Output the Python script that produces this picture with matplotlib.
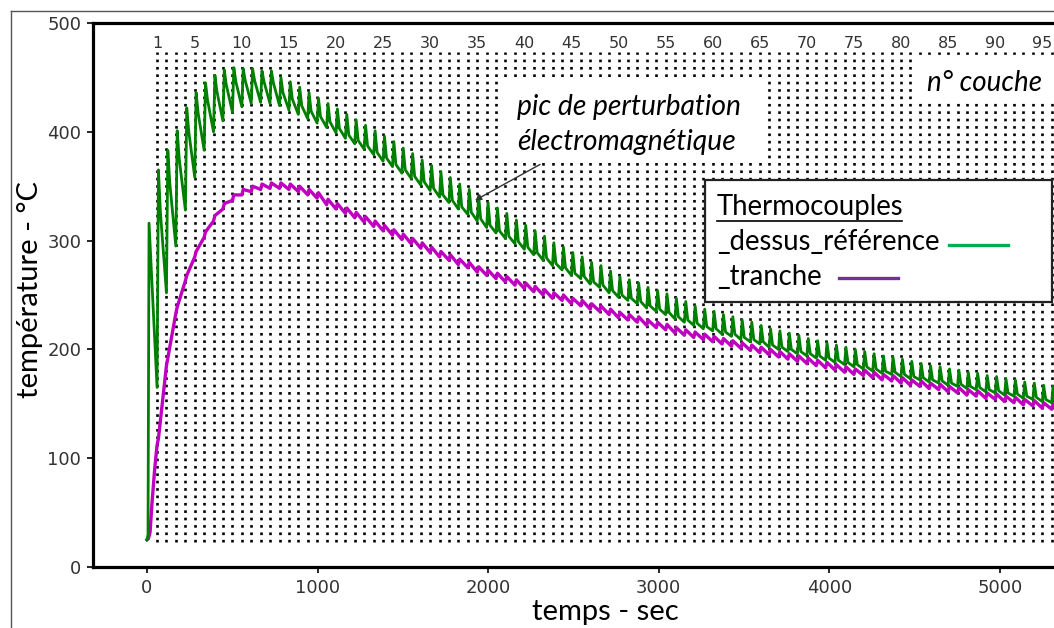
import matplotlib
matplotlib.use("Agg")
import matplotlib.pyplot as plt
from matplotlib.patches import Rectangle
from matplotlib.lines import Line2D

# ---------------- data ----------------
layer_t = [59, 114, 169, 225, 280, 335, 390, 445, 501, 556, 611, 666, 721, 777, 832, 887,
           942, 997, 1053, 1108, 1163, 1218, 1273, 1329, 1384, 1439, 1494, 1549, 1605, 1660,
           1715, 1770, 1825, 1881, 1936, 1991, 2046, 2101, 2157, 2212, 2267, 2322, 2377, 2433,
           2488, 2543, 2598, 2653, 2709, 2764, 2819, 2874, 2929, 2985, 3040, 3095, 3150, 3205,
           3261, 3316, 3371, 3426, 3481, 3537, 3592, 3647, 3702, 3757, 3813, 3868, 3923, 3978,
           4033, 4089, 4144, 4199, 4254, 4309, 4365, 4420, 4475, 4530, 4585, 4641, 4696, 4751,
           4806, 4861, 4917, 4972, 5027, 5082, 5137, 5193, 5248, 5303]
layer_labels = [1, 5, 10, 15, 20, 25, 30, 35, 40, 45, 50, 55, 60, 65, 70, 75, 80, 85, 90, 95]

start_t = [0, 6, 12]
green_start = [25, 30, 316]
mag_start_t = [0, 8, 18, 30, 45]
mag_start = [25, 26, 32, 60, 90]

green_base = [165, 252, 295, 328, 358, 383, 400, 410, 418, 423, 426, 427, 426, 424, 420, 416,
              412, 408, 404, 399, 394, 389, 384, 379, 373, 368, 362, 357, 351, 346, 340, 335,
              329, 324, 318, 312, 307, 302, 297, 292, 287, 282, 277, 273, 268, 265, 260, 257,
              252, 248, 245, 242, 238, 235, 232, 228, 225, 222, 219, 217, 214, 212, 209, 207,
              205, 202, 200, 198, 196, 194, 192, 190, 188, 186, 184, 182, 180, 178, 177, 175,
              173, 172, 170, 169, 167, 166, 164, 163, 161, 160, 158, 157, 155, 154, 152, 151]
green_peak = [365, 383, 401, 422, 436, 445, 452, 457, 459, 458, 458, 456, 456, 450, 446, 441,
              436, 431, 426, 421, 416, 411, 406, 401, 396, 391, 385, 380, 374, 369, 363, 358,
              352, 347, 341, 335, 330, 325, 319, 314, 309, 304, 298, 294, 289, 285, 280, 277,
              272, 267, 264, 261, 257, 254, 251, 247, 244, 240, 237, 235, 232, 230, 227, 225,
              222, 219, 217, 215, 213, 210, 208, 206, 204, 202, 200, 198, 196, 194, 193, 191,
              189, 187, 185, 184, 182, 181, 179, 178, 176, 175, 173, 172, 170, 169, 167, 166]
green_after = [325, 352, 375, 400, 417, 429, 437, 443, 446, 447, 447, 446, 445, 436, 430, 424,
               419, 414, 409, 403, 397, 392, 387, 381, 376, 370, 365, 359, 354, 348, 342, 337,
               331, 326, 320, 314, 309, 304, 299, 294, 289, 284, 279, 275, 270, 267, 262, 259,
               254, 250, 247, 244, 240, 237, 234, 230, 227, 224, 221, 219, 216, 214, 211, 209,
               207, 204, 202, 200, 198, 196, 194, 192, 190, 188, 186, 184, 182, 180, 179, 177,
               175, 174, 172, 171, 169, 168, 166, 165, 163, 162, 160, 159, 157, 156, 154, 153]
mag_base = [112, 185, 233, 263, 285, 303, 318, 329, 337, 342, 345, 347, 348, 348, 347, 345,
            342, 339, 333, 329, 325, 321, 317, 313, 309, 305, 301, 297, 293, 289, 285, 282,
            278, 275, 271, 268, 265, 262, 259, 256, 253, 250, 247, 245, 242, 240, 237, 235,
            232, 229, 227, 225, 222, 220, 218, 215, 213, 211, 209, 207, 205, 203, 201, 199,
            197, 195, 193, 191, 189, 187, 185, 183, 181, 179, 177, 176, 174, 172, 171, 169,
            167, 166, 164, 163, 161, 160, 158, 157, 155, 154, 152, 151, 149, 148, 146, 145]
mag_peak = [118, 192, 239, 268, 290, 308, 323, 334, 342, 347, 350, 352, 353, 353, 352, 350,
            347, 344, 338, 334, 330, 326, 322, 318, 314, 310, 306, 302, 298, 294, 290, 287,
            283, 280, 276, 273, 270, 267, 264, 261, 258, 255, 252, 250, 247, 245, 242, 240,
            237, 234, 232, 230, 227, 225, 223, 220, 218, 216, 214, 212, 210, 208, 206, 204,
            202, 200, 198, 196, 194, 192, 190, 188, 186, 184, 182, 181, 179, 177, 176, 174,
            172, 171, 169, 168, 166, 165, 163, 162, 160, 159, 157, 156, 154, 153, 151, 150]

x_ticks = [0, 1000, 2000, 3000, 4000, 5000]
y_ticks = [0, 100, 200, 300, 400, 500]

# ---------------- build series ----------------
gt, gv = list(start_t), list(green_start)
for t, b, p, a in zip(layer_t, green_base, green_peak, green_after):
    gt += [t, t + 8, t + 20]
    gv += [b, p, a]
mt, mv = list(mag_start_t), list(mag_start)
for t, b, p in zip(layer_t, mag_base, mag_peak):
    mt += [t, t + 8]
    mv += [b, p]

# ---------------- figure ----------------
W, H = 1054, 628
fig = plt.figure(figsize=(W / 100, H / 100), dpi=100)


def fx(px):
    return px / W


def fy(py):
    return 1 - py / H


ax = fig.add_axes([fx(93), fy(567), (W - 93) / W, (567 - 23) / H])
ax.set_xlim(-316.5, 5316.6)
ax.set_ylim(0, 500)

ax.vlines(layer_t, 23, 473, colors="black", linestyles=(0, (1, 1.8)), linewidth=1.9, zorder=1)
ax.plot(gt, gv, color="#008000", lw=2.0, zorder=3)
ax.plot(mt, mv, color="#C000C0", lw=2.4, zorder=2)

for n in layer_labels:
    ax.text(layer_t[n - 1], 481.5, str(n), ha="center", va="center", fontsize=11.5,
            color="#333333", zorder=4)

ax.set_xticks(x_ticks)
ax.set_yticks(y_ticks)
ax.tick_params(direction="out", length=4.5, width=1.2, labelsize=13,
               labelcolor="#333333", pad=4)
for s in ["left", "bottom", "top"]:
    ax.spines[s].set_linewidth(2.3)
ax.spines["right"].set_visible(False)

ax.annotate("", xy=(1923, 337), xytext=(2304, 370),
            arrowprops=dict(arrowstyle="-|>", color="#333333", lw=1.0,
                            mutation_scale=9, shrinkA=0, shrinkB=0), zorder=5)

# outer frame
fig.add_artist(Line2D([fx(11), fx(11)], [fy(11), 0], color="#555555", lw=1.0))
fig.add_artist(Line2D([fx(11), 1], [fy(11), fy(11)], color="#555555", lw=1.0))


# white boxes
def wbox(x0, y0, x1, y1, edge=None, lw=0):
    r = Rectangle((fx(x0), fy(y1)), fx(x1) - fx(x0), fy(y0) - fy(y1),
                  transform=fig.transFigure, facecolor="white",
                  edgecolor=edge if edge else "none", linewidth=lw, zorder=2)
    fig.add_artist(r)


wbox(503, 80, 762, 162)
wbox(912, 56, 1054, 101)
wbox(705, 180, 1052, 302, edge="#222222", lw=1.6)

ital = dict(family="Lato", style="italic", color="black", zorder=5)
fig.text(fx(517), fy(107), "pic de perturbation", ha="left", va="center", fontsize=20.3, **ital)
fig.text(fx(517), fy(142), "électromagnétique", ha="left", va="center", fontsize=20.3, **ital)
fig.text(fx(927), fy(83), "n° couche", ha="left", va="center", fontsize=20, **ital)

reg = dict(family="Lato", color="black", zorder=5)
fig.text(fx(717), fy(207), "Thermocouples", ha="left", va="center", fontsize=19.8, **reg)
fig.add_artist(Line2D([fx(717), fx(902)], [fy(221), fy(221)], color="black", lw=1.2, zorder=5))
fig.text(fx(717), fy(242), "_dessus_référence", ha="left", va="center", fontsize=19.8, **reg)
fig.add_artist(Line2D([fx(949), fx(1008)], [fy(245), fy(245)], color="#00B050", lw=2.4, zorder=5))
fig.text(fx(717), fy(277), "_tranche", ha="left", va="center", fontsize=19.8, **reg)
fig.add_artist(Line2D([fx(839), fx(898)], [fy(278), fy(278)], color="#7030A0", lw=2.4, zorder=5))

fig.text(fx(605), fy(612), "temps - sec", ha="center", va="center", fontsize=21, **reg)
fig.text(fx(30), fy(290), "température - °C", ha="center", va="center", fontsize=21,
         rotation=90, **reg)

fig.savefig("out.png", dpi=100)
